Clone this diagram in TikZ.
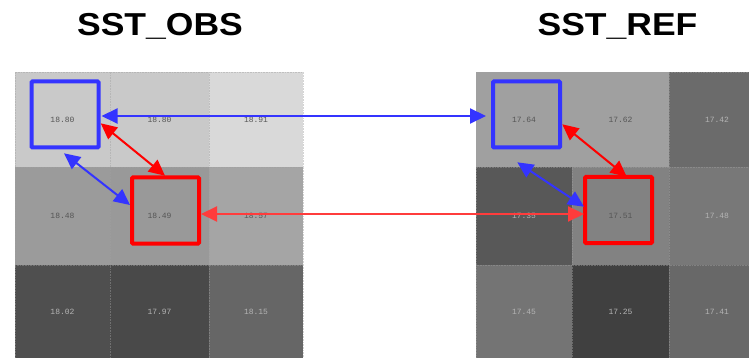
\documentclass[tikz,border=0pt]{standalone}
\usepackage{fontspec}
\setmainfont{Liberation Sans}
\newfontfamily\cellfont{Liberation Mono}
\usetikzlibrary{arrows.meta}

\definecolor{boxblue}{HTML}{3434FF}
\definecolor{boxred}{HTML}{FF0000}
\definecolor{linkred}{HTML}{FF3C3C}
\definecolor{darktxt}{HTML}{555555}
\definecolor{lighttxt}{HTML}{B4B4B4}
\definecolor{gridc}{HTML}{A0A0A0}

\begin{document}
\begin{tikzpicture}[x=1pt,y=-1pt,
  cell/.style={draw=gridc, draw opacity=0.45, densely dotted, line width=0.6pt,
    inner sep=0pt, font=\cellfont\fontsize{8}{9}\selectfont},
  title/.style={anchor=base, inner sep=0pt, font=\fontsize{31.7}{36}\selectfont\bfseries},
  frame/.style={draw, line width=4pt, rounded corners=1pt, minimum width=67pt,
    minimum height=66pt, inner sep=0pt},
  tip/.style={Triangle[length=16pt,width=15pt]},
  bluelink/.style={boxblue, line width=2pt, {Triangle[length=16pt,width=15pt]}-{Triangle[length=16pt,width=15pt]}},
  redlink/.style={boxred, line width=2pt, {Triangle[length=16pt,width=15pt]}-{Triangle[length=16pt,width=15pt]}},
]
\clip (0,0) rectangle (749,358);
\fill[white] (0,0) rectangle (749,358);

% titles
\node[title] (tobs) at (160,35.5) {\scalebox{1.12}[1]{SST\_OBS}};
\node[title] (tref) at (617.5,35.5) {\scalebox{1.12}[1]{SST\_REF}};

% field cells: name / x / y / width / height / gray level / value / text colour
\foreach \n/\cx/\cy/\w/\h/\g/\v/\tc in {
  o11/62.5/119.5/95/95/0.788/18.80/darktxt,
  o12/159.5/119.5/99/95/0.788/18.80/darktxt,
  o13/256/119.5/94/95/0.851/18.91/darktxt,
  o21/62.5/216/95/98/0.608/18.48/darktxt,
  o22/159.5/216/99/98/0.600/18.49/darktxt,
  o23/256/216/94/98/0.647/18.57/darktxt,
  o31/62.5/312/95/94/0.310/18.02/lighttxt,
  o32/159.5/312/99/94/0.286/17.97/lighttxt,
  o33/256/312/94/94/0.400/18.15/lighttxt,
  r11/524/119.5/96/95/0.627/17.64/darktxt,
  r12/620.5/119.5/97/95/0.627/17.62/darktxt,
  r13/717/119.5/96/95/0.420/17.42/lighttxt,
  r21/524/216/96/98/0.345/17.35/lighttxt,
  r22/620.5/216/97/98/0.510/17.51/darktxt,
  r23/717/216/96/98/0.470/17.48/lighttxt,
  r31/524/312/96/94/0.455/17.45/lighttxt,
  r32/620.5/312/97/94/0.251/17.25/lighttxt,
  r33/717/312/96/94/0.408/17.41/lighttxt}{
  \definecolor{cellc}{gray}{\g}
  \node[cell, fill=cellc, text=\tc, minimum width=\w pt, minimum height=\h pt]
    (\n) at (\cx,\cy) {\v};
}

% highlighted pixels
\node[frame, draw=boxblue] (obsB) at (65,114.5) {};
\node[frame, draw=boxred] (obsR) at (165.5,210.5) {};
\node[frame, draw=boxblue] (refB) at (526.5,114.5) {};
\node[frame, draw=boxred] (refR) at (618.5,210) {};

% link end points
\coordinate (bhL) at (101.5,116);
\coordinate (bhR) at (486,116);
\coordinate (rhL) at (201,214);
\coordinate (rhR) at (584,214);
\coordinate (odRa) at (100.7,123.3);
\coordinate (odRb) at (165,175.7);
\coordinate (odBa) at (64,153.3);
\coordinate (odBb) at (130,205);
\coordinate (rdRa) at (562.3,124.3);
\coordinate (rdRb) at (626.7,176.7);
\coordinate (rdBa) at (517.3,162.3);
\coordinate (rdBb) at (584,206.7);

% links between the two fields
\draw[bluelink] (bhL) -- (bhR);
\draw[redlink, linkred] (rhL) -- (rhR);

% links inside each field
\draw[redlink] (odRa) -- (odRb);
\draw[bluelink] (odBa) -- (odBb);
\draw[redlink] (rdRa) -- (rdRb);
\draw[bluelink] (rdBa) -- (rdBb);
\end{tikzpicture}
\end{document}
